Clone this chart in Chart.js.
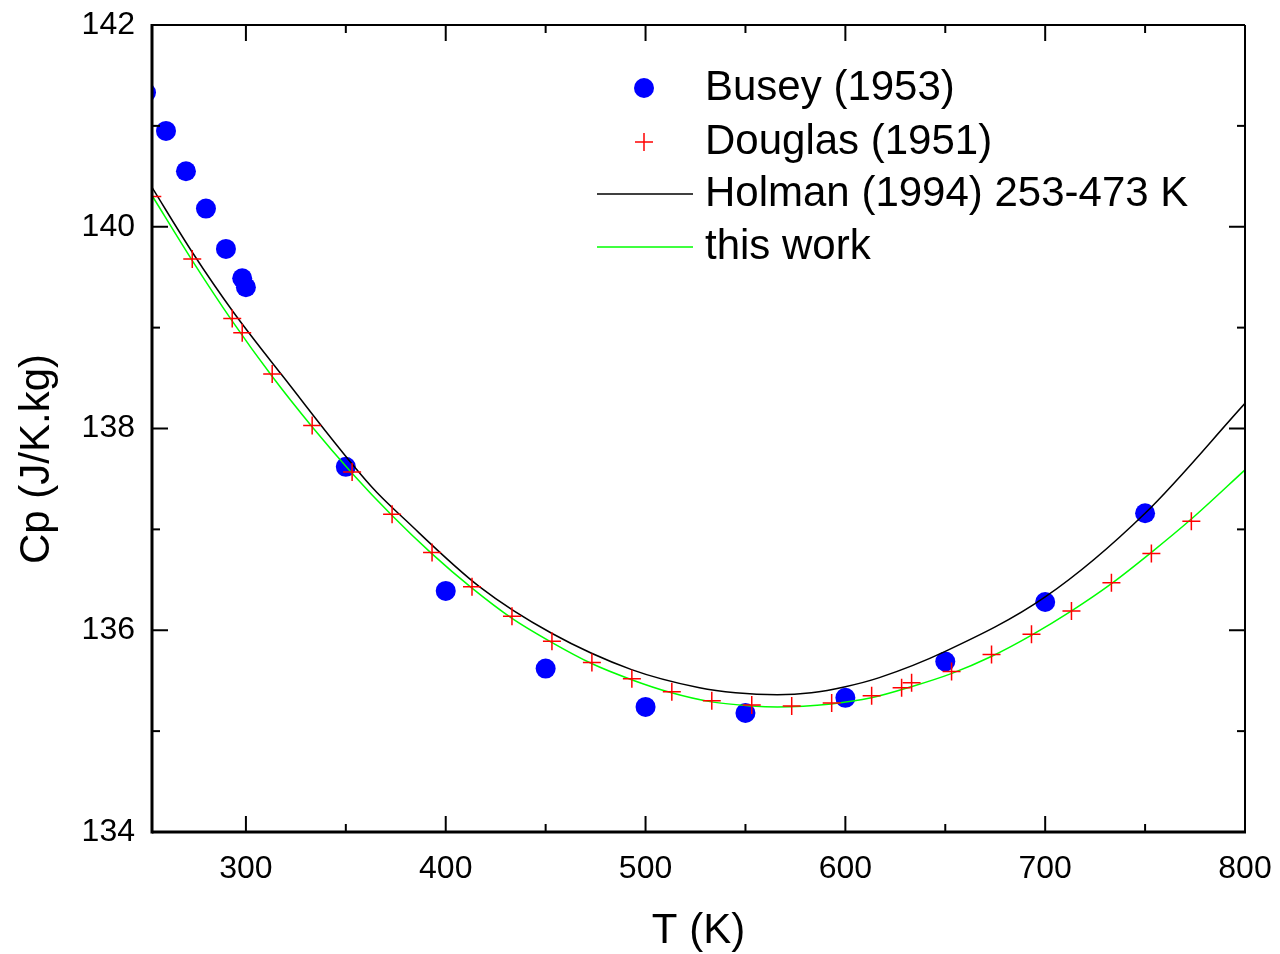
<!DOCTYPE html>
<html>
<head>
<meta charset="utf-8">
<script src="https://cdn.jsdelivr.net/npm/chart.js@4/dist/chart.umd.min.js"></script>
<style>
  html, body { margin: 0; padding: 0; background: #fff; }
  #wrap { width: 1280px; height: 954px; }
</style>
</head>
<body>
<div id="wrap"><canvas id="cpChart" width="1280" height="954"></canvas></div>
<script>
// values
const buseyT = [250, 260, 270, 280, 290, 298.15, 300, 350, 400, 450, 500, 550, 600, 650, 700, 750];
const buseyCp = [141.33, 140.95, 140.55, 140.18, 139.78, 139.49, 139.40, 137.62, 136.39, 135.62, 135.24, 135.18, 135.33, 135.69, 136.28, 137.16];

const douglasT = [253.15, 273.15, 293.15, 298.15, 313.15, 333.15, 353.15, 373.15, 393.15, 413.15, 433.15, 453.15, 473.15, 493.15, 513.15, 533.15, 553.15, 573.15, 593.15, 613.15, 628.15, 633.15, 653.15, 673.15, 693.15, 713.15, 733.15, 753.15, 773.15];
const douglasCp = [140.30, 139.68, 139.09, 138.95, 138.54, 138.03, 137.57, 137.15, 136.77, 136.43, 136.14, 135.89, 135.68, 135.52, 135.39, 135.30, 135.26, 135.25, 135.28, 135.35, 135.43, 135.48, 135.59, 135.76, 135.96, 136.19, 136.47, 136.76, 137.08];

const holmanT = [253, 273.4, 293.5, 318, 363, 380, 417, 453, 493, 527, 545, 566, 583, 600, 617, 650, 700, 750, 800];
const holmanCp = [140.39, 139.74, 139.16, 138.53, 137.42, 137.09, 136.43, 135.97, 135.61, 135.43, 135.38, 135.36, 135.38, 135.44, 135.53, 135.79, 136.33, 137.16, 138.25];

const fitT = [253, 273, 293, 313, 333, 353, 373, 393, 413, 433, 453, 473, 493, 513, 533, 553, 566, 593, 613, 633, 653, 673, 693, 713, 733, 753, 773, 800];
const fitCp = [140.31, 139.67, 139.07, 138.52, 138.02, 137.56, 137.14, 136.76, 136.42, 136.12, 135.88, 135.67, 135.51, 135.38, 135.29, 135.25, 135.24, 135.27, 135.33, 135.44, 135.57, 135.74, 135.95, 136.19, 136.46, 136.77, 137.10, 137.59];

const xTicks = [300, 400, 500, 600, 700, 800];
const xMinor = [350, 450, 550, 650, 750];
const yTicks = [134, 136, 138, 140, 142];
const yMinor = [135, 137, 139, 141];

const labels = ["Busey (1953)", "Douglas (1951)", "Holman (1994) 253-473 K", "this work"];

const toXY = (xs, ys) => xs.map((v, i) => ({ x: v, y: ys[i] }));
const FONT = "'Liberation Sans', Arial, sans-serif";

const framePlugin = {
  id: "frame",
  afterDraw(chart) {
    const { ctx, chartArea: a, scales: { x, y } } = chart;
    const line = (x1, y1, x2, y2) => {
      ctx.beginPath(); ctx.moveTo(x1, y1); ctx.lineTo(x2, y2); ctx.stroke();
    };
    ctx.save();
    ctx.strokeStyle = "#000";
    ctx.lineWidth = 2;
    xTicks.forEach(v => {
      const p = x.getPixelForValue(v);
      line(p, a.bottom, p, a.bottom - 16);
      line(p, a.top, p, a.top + 16);
    });
    xMinor.forEach(v => {
      const p = x.getPixelForValue(v);
      line(p, a.bottom, p, a.bottom - 8);
      line(p, a.top, p, a.top + 8);
    });
    yTicks.forEach(v => {
      const p = y.getPixelForValue(v);
      line(a.left, p, a.left + 16, p);
      line(a.right, p, a.right - 16, p);
    });
    yMinor.forEach(v => {
      const p = y.getPixelForValue(v);
      line(a.left, p, a.left + 8, p);
      line(a.right, p, a.right - 8, p);
    });

    // box
    ctx.lineWidth = 2;
    line(a.left, a.top, a.right, a.top);
    line(a.right, a.top, a.right, a.bottom);
    ctx.lineWidth = 3;
    line(a.left, a.top - 1, a.left, a.bottom + 1.5);
    line(a.left, a.bottom, a.right + 1, a.bottom);

    // axis titles
    ctx.fillStyle = "#000";
    ctx.font = "42px " + FONT;
    ctx.textAlign = "center";
    ctx.textBaseline = "middle";
    ctx.fillText("T (K)", (a.left + a.right) / 2, 931);
    ctx.save();
    ctx.translate(37, 459);
    ctx.rotate(-Math.PI / 2);
    ctx.fillText("Cp (J/K.kg)", 0, 0);
    ctx.restore();

    // legend
    const rows = [88, 142, 194, 247];
    ctx.textAlign = "left";
    ctx.fillStyle = "#0000ff";
    ctx.beginPath(); ctx.arc(644, rows[0], 10, 0, Math.PI * 2); ctx.fill();
    ctx.strokeStyle = "#ff0000"; ctx.lineWidth = 1.5;
    line(635, rows[1], 653, rows[1]);
    line(644, rows[1] - 9, 644, rows[1] + 9);
    ctx.strokeStyle = "#000"; ctx.lineWidth = 1.5;
    line(597, rows[2], 693, rows[2]);
    ctx.strokeStyle = "#00ff00";
    line(597, rows[3], 693, rows[3]);
    ctx.fillStyle = "#000";
    labels.forEach((t, i) => ctx.fillText(t, 705, rows[i]));
    ctx.restore();
  }
};

new Chart(document.getElementById("cpChart"), {
  type: "scatter",
  data: {
    datasets: [
      {
        label: labels[0],
        data: toXY(buseyT, buseyCp),
        pointStyle: "circle",
        pointRadius: 10,
        backgroundColor: "#0000ff",
        borderWidth: 0,
        order: 4
      },
      {
        label: labels[1],
        data: toXY(douglasT, douglasCp),
        pointStyle: "cross",
        pointRadius: 9,
        borderColor: "#ff0000",
        borderWidth: 1.5,
        order: 1
      },
      {
        label: labels[2],
        data: toXY(holmanT, holmanCp),
        showLine: true,
        pointRadius: 0,
        borderColor: "#000000",
        borderWidth: 1.5,
        cubicInterpolationMode: "monotone",
        order: 3
      },
      {
        label: labels[3],
        data: toXY(fitT, fitCp),
        showLine: true,
        pointRadius: 0,
        borderColor: "#00ff00",
        borderWidth: 1.5,
        cubicInterpolationMode: "monotone",
        order: 2
      }
    ]
  },
  options: {
    responsive: false,
    animation: false,
    events: [],
    layout: { padding: { top: 25, right: 35, left: 0, bottom: 0 } },
    plugins: {
      legend: { display: false },
      tooltip: { enabled: false }
    },
    scales: {
      x: {
        type: "linear",
        min: 253,
        max: 800,
        afterBuildTicks: s => { s.ticks = xTicks.map(v => ({ value: v })); },
        afterFit: s => { s.height = 122; s.paddingLeft = 0; s.paddingRight = 0; },
        grid: { display: false, drawTicks: false },
        border: { display: false },
        ticks: { color: "#000", font: { family: FONT, size: 32 }, padding: 18, maxRotation: 0 }
      },
      y: {
        min: 134,
        max: 142,
        afterBuildTicks: s => { s.ticks = yTicks.map(v => ({ value: v })); },
        afterFit: s => { s.width = 152; s.paddingTop = 0; s.paddingBottom = 0; },
        grid: { display: false, drawTicks: false },
        border: { display: false },
        ticks: { color: "#000", font: { family: FONT, size: 32 }, padding: 17 }
      }
    }
  },
  plugins: [framePlugin]
});
</script>
</body>
</html>
